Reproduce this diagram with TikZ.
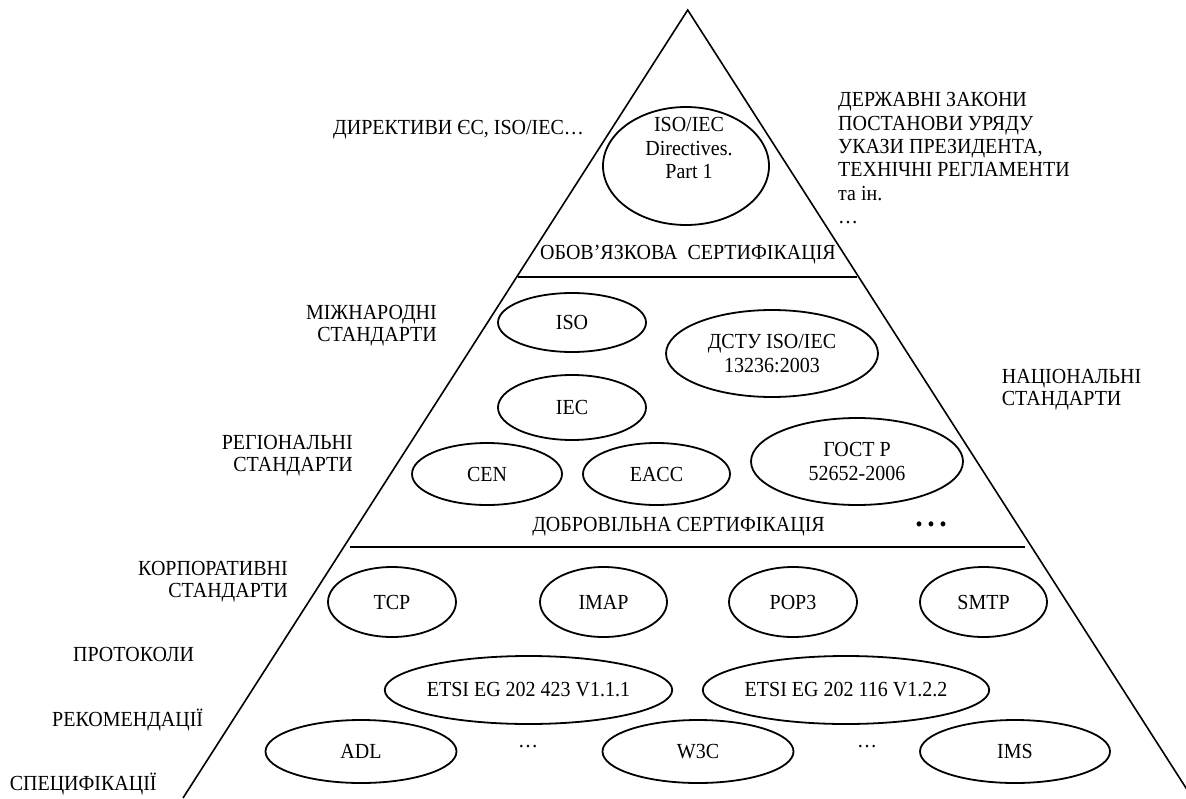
\documentclass[tikz,border=0pt]{standalone}
\usepackage{fontspec}
\setmainfont{Liberation Serif}[FakeStretch=0.93]
\usetikzlibrary{shapes.geometric}
\begin{document}
\begin{tikzpicture}[x=1pt,y=-1pt,
  lbl/.style={font=\fontsize{21.5}{23.3}\selectfont, inner sep=0pt},
  ell/.style={ellipse, draw, line width=1.8pt, inner sep=0pt, font=\fontsize{21.5}{23.3}\selectfont, align=center},
  side/.style={line width=1.6pt},
  divider/.style={line width=2.2pt}]
\useasboundingbox (0,0) rectangle (1186,798);
\clip (0,0) rectangle (1186,798);
% pyramid
\coordinate (apex) at (687.7,10);
\coordinate (bl) at (183,798);
\coordinate (br) at (1192.4,798);
\draw[side] (bl) -- (apex) -- (br);
\coordinate (d1l) at (518,277);
\coordinate (d1r) at (857,277);
\coordinate (d2l) at (350,547);
\coordinate (d2r) at (1025,547);
\draw[divider] (d1l) -- (d1r);
\draw[divider] (d2l) -- (d2r);
% top section
\node[ell, minimum width=166, minimum height=118] (dir) at (686,166) {};
\node[lbl, align=center] (dirt) at (689,148) {ISO/IEC\\Directives.\\Part 1};
\node[lbl, anchor=base west] (direc) at (333,134.3) {ДИРЕКТИВИ ЄС, ISO/IEC…};
\node[lbl, anchor=base west] (r1) at (838,106.8) {ДЕРЖАВНІ ЗАКОНИ};
\node[lbl, anchor=base west] (r2) at (838,130.1) {ПОСТАНОВИ УРЯДУ};
\node[lbl, anchor=base west] (r3) at (838,153.4) {УКАЗИ ПРЕЗИДЕНТА,};
\node[lbl, anchor=base west] (r4) at (838,176.7) {ТЕХНІЧНІ РЕГЛАМЕНТИ};
\node[lbl, anchor=base west] (r5) at (838,200) {та ін.};
\node[lbl, anchor=base west] (r6) at (838,223.3) {…};
\node[lbl, anchor=base east] (oblig) at (836,259) {ОБОВ’ЯЗКОВА\ \ СЕРТИФІКАЦІЯ};
% middle section
\node[ell, minimum width=148, minimum height=59] (iso) at (572,322.5) {ISO};
\node[ell, minimum width=212, minimum height=87] (dstu) at (772,353.5) {ДСТУ ISO/IEC\\13236:2003};
\node[ell, minimum width=148, minimum height=65] (iec) at (572,407.5) {IEC};
\node[ell, minimum width=150, minimum height=62] (cen) at (487,474) {CEN};
\node[ell, minimum width=147, minimum height=62] (eacc) at (656.5,474) {EACC};
\node[ell, minimum width=212, minimum height=87] (gost) at (857,461.5) {ГОСТ Р\\52652-2006};
\node[lbl, anchor=base east] (int1) at (437,319.5) {МІЖНАРОДНІ};
\node[lbl, anchor=base east] (int2) at (437,341.5) {СТАНДАРТИ};
\node[lbl, anchor=base east] (reg1) at (353,449.5) {РЕГІОНАЛЬНІ};
\node[lbl, anchor=base east] (reg2) at (353,471.5) {СТАНДАРТИ};
\node[lbl, anchor=base west] (nat1) at (1001.7,383.5) {НАЦІОНАЛЬНІ};
\node[lbl, anchor=base west] (nat2) at (1001.7,405.5) {СТАНДАРТИ};
\node[lbl, anchor=base east] (volun) at (825,531.5) {ДОБРОВІЛЬНА СЕРТИФІКАЦІЯ};
\node[lbl] (dots) at (931,527) {• • •};
% bottom section
\node[ell, minimum width=128, minimum height=70] (tcp) at (392,602) {TCP};
\node[ell, minimum width=127, minimum height=70] (imap) at (603.5,602) {IMAP};
\node[ell, minimum width=128, minimum height=70] (pop) at (793,602) {POP3};
\node[ell, minimum width=127, minimum height=70] (smtp) at (983.5,602) {SMTP};
\node[ell, minimum width=275, minimum height=68] (etsia) at (528.5,690) {ETSI EG 202 423 V1.1.1};
\node[ell, minimum width=276, minimum height=68] (etsib) at (846,690) {ETSI EG 202 116 V1.2.2};
\node[ell, minimum width=191, minimum height=63] (adl) at (361,751.5) {ADL};
\node[ell, minimum width=191, minimum height=63] (w3c) at (698,751.5) {W3C};
\node[ell, minimum width=190, minimum height=63] (ims) at (1015,751.5) {IMS};
\node[lbl, anchor=base] (ell1) at (528,747) {…};
\node[lbl, anchor=base] (ell2) at (867,747) {…};
\node[lbl, anchor=base east] (corp1) at (288,575.5) {КОРПОРАТИВНІ};
\node[lbl, anchor=base east] (corp2) at (288,597.5) {СТАНДАРТИ};
\node[lbl, anchor=base west] (prot) at (73,661.5) {ПРОТОКОЛИ};
\node[lbl, anchor=base west] (rec) at (52,726.5) {РЕКОМЕНДАЦІЇ};
\node[lbl, anchor=base west] (spec) at (9.6,790) {СПЕЦИФІКАЦІЇ};
\end{tikzpicture}
\end{document}
